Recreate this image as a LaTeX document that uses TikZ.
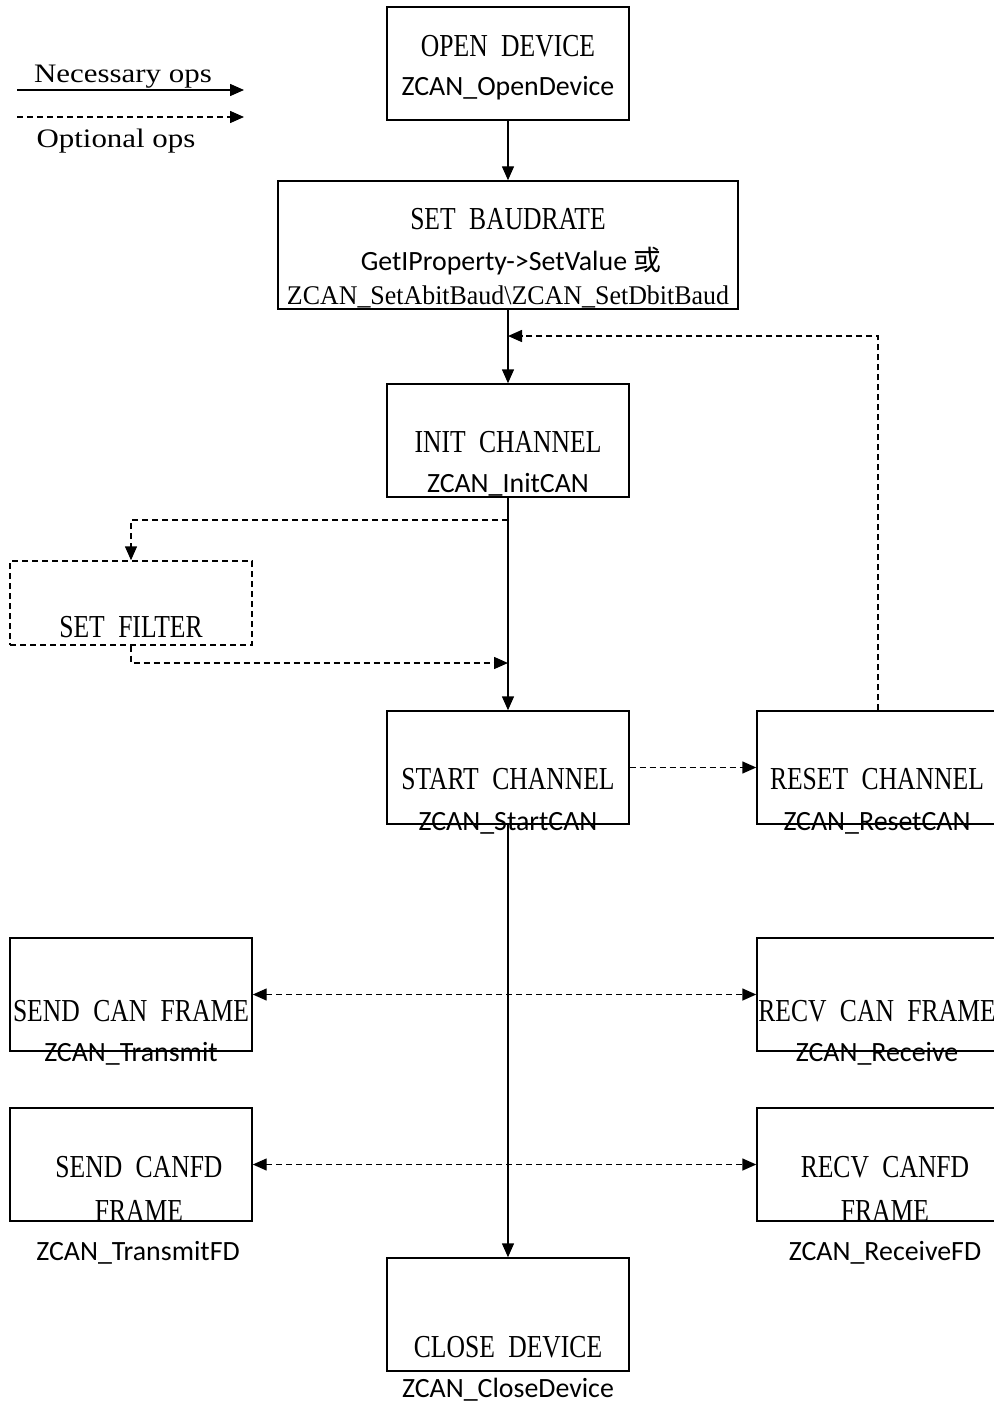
\documentclass[tikz,border=0pt]{standalone}
\usepackage{fontspec}
\usetikzlibrary{arrows.meta}
\newfontfamily\ttlfont[FakeStretch=0.8,WordSpace=2.1]{Liberation Serif}
\newfontfamily\lgdfont[FakeStretch=1.16]{Liberation Serif}
\newfontfamily\bdfont[FakeStretch=0.96]{Liberation Serif}
\newfontfamily\calfont{Carlito}
\newfontfamily\cjkfont{Noto Sans CJK SC}
\tikzset{
  box/.style={draw, line width=1.1pt, minimum width=181.5pt, minimum height=84.75pt, inner sep=0pt},
  ttl/.style={font=\ttlfont\fontsize{24}{28}\selectfont, anchor=base, inner sep=0pt},
  api/.style={font=\calfont\fontsize{20.9}{24}\selectfont, anchor=base, inner sep=0pt},
  lgd/.style={font=\lgdfont\fontsize{20}{24}\selectfont, anchor=base, inner sep=0pt},
  bd/.style={font=\bdfont\fontsize{20.25}{24}\selectfont, anchor=base, inner sep=0pt},
  arr/.style={line width=1.1pt, -{Triangle[length=10.5pt,width=9pt]}},
  darr/.style={line width=1.1pt, dash pattern=on 4.5pt off 3pt, -{Triangle[length=10.5pt,width=9pt]}},
  ddarr/.style={line width=1.1pt, dash pattern=on 4.5pt off 3pt, {Triangle[length=10.5pt,width=9pt]}-{Triangle[length=10.5pt,width=9pt]}},
}
\begin{document}
\begin{tikzpicture}[x=0.75pt,y=-0.75pt]
\useasboundingbox (0,0) rectangle (993,1402);
% legend
\coordinate (l1a) at (17,90); \coordinate (l1b) at (244,90);
\coordinate (l2a) at (17,117); \coordinate (l2b) at (244,117);
\draw[arr] (l1a) -- (l1b);
\draw[darr] (l2a) -- (l2b);
\node[lgd] (lnec) at (123,83) {Necessary ops};
\node[lgd] (lopt) at (116,147) {Optional ops};
% boxes
\node[box] (open) at (508,63.5) {};
\node[box, minimum width=345pt, minimum height=96pt] (baud) at (508,245) {};
\node[box] (init) at (508,440.5) {};
\node[box, minimum height=63pt, dash pattern=on 4.5pt off 3pt] (filter) at (131,603) {};
\node[box] (start) at (508,767.5) {};
\node[box] (reset) at (878,767.5) {};
\node[box] (sendcan) at (131,994.5) {};
\node[box] (recvcan) at (878,994.5) {};
\node[box] (sendfd) at (131,1164.5) {};
\node[box] (recvfd) at (878,1164.5) {};
\node[box] (close) at (508,1314.5) {};
% texts
\node[ttl] (t1) at (508,57) {OPEN DEVICE};
\node[api] (a1) at (508,96) {ZCAN\_OpenDevice};
\node[ttl] (t2) at (508,229) {SET BAUDRATE};
\node[api] (a2) at (511,270) {GetIProperty->SetValue {\cjkfont 或}};
\node[bd] (a2b) at (508,304) {ZCAN\_SetAbitBaud\textbackslash ZCAN\_SetDbitBaud};
\node[ttl] (t3) at (508,452) {INIT CHANNEL};
\node[api] (a3) at (508,492) {ZCAN\_InitCAN};
\node[ttl] (t4) at (131,637) {SET FILTER};
\node[ttl] (t5) at (508,789) {START CHANNEL};
\node[api] (a5) at (508,830) {ZCAN\_StartCAN};
\node[ttl] (t6) at (877,789) {RESET CHANNEL};
\node[api] (a6) at (877,830) {ZCAN\_ResetCAN};
\node[ttl] (t7) at (131,1021) {SEND CAN FRAME};
\node[api] (a7) at (131,1061) {ZCAN\_Transmit};
\node[ttl] (t8) at (877,1021) {RECV CAN FRAME};
\node[api] (a8) at (877,1061) {ZCAN\_Receive};
\node[ttl] (t9) at (139,1177) {SEND CANFD};
\node[ttl] (t9b) at (139,1221) {FRAME};
\node[api] (a9) at (138,1260) {ZCAN\_TransmitFD};
\node[ttl] (t10) at (885,1177) {RECV CANFD};
\node[ttl] (t10b) at (885,1221) {FRAME};
\node[api] (a10) at (885,1260) {ZCAN\_ReceiveFD};
\node[ttl] (t11) at (508,1357) {CLOSE DEVICE};
\node[api] (a11) at (508,1397) {ZCAN\_CloseDevice};
% connectors
\coordinate (jb) at (508,336);
\coordinate (jf1) at (508,520);
\coordinate (jf2) at (508,663);
\draw[arr] (open) -- (baud);
\draw[arr] (baud) -- (init);
\draw[darr] (reset.north) |- (jb);
\draw[arr] (init) -- (start);
\draw[darr] (jf1) -| (filter.north);
\draw[darr] (filter.south) |- (jf2);
\draw[darr] (start) -- (reset);
\draw[arr] (start) -- (close);
\draw[ddarr] (sendcan) -- (recvcan);
\draw[ddarr] (sendfd) -- (recvfd);
\end{tikzpicture}
\end{document}
